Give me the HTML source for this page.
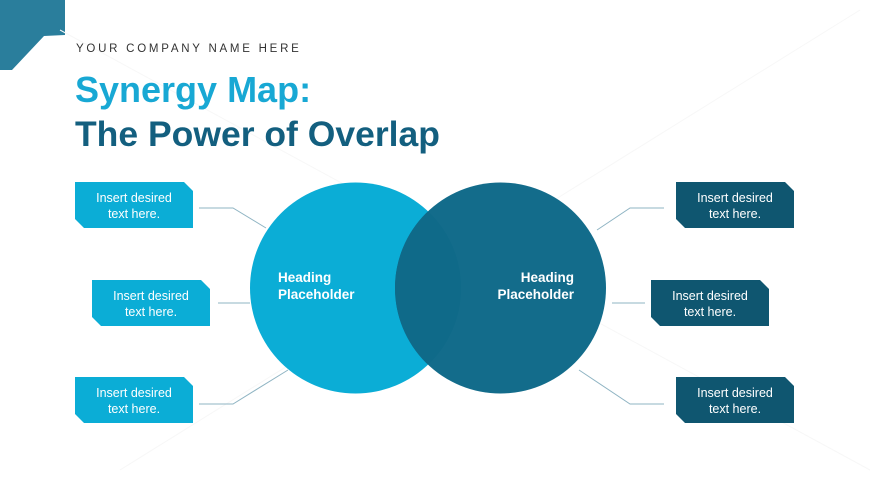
<!DOCTYPE html>
<html><head><meta charset="utf-8"><style>
html,body{margin:0;padding:0;background:#fff}
body{width:870px;height:489px;position:relative;overflow:hidden;font-family:"Liberation Sans",sans-serif}
.t{position:absolute;white-space:nowrap}
</style></head><body>
<svg width="870" height="489" style="position:absolute;left:0;top:0">
<defs><clipPath id="lc"><circle cx="355.5" cy="288" r="105.5"/></clipPath></defs>
<polygon points="0,0 65,0 65,35 44,36 12,70 0,70" fill="#2a7e9c"/>
<g stroke="#f7f7f7" stroke-width="1">
<line x1="60" y1="30" x2="870" y2="470"/>
<line x1="120" y1="470" x2="860" y2="10"/>
</g>
<g stroke="#8fb4c3" stroke-width="1" fill="none">
<polyline points="199,208 233,208 266,228"/>
<polyline points="218,303 250,303"/>
<polyline points="199,404 233,404 288,370"/>
<polyline points="664,208 630,208 597,230"/>
<polyline points="612,303 645,303"/>
<polyline points="664,404 630,404 579,370"/>
</g>
<circle cx="355.5" cy="288" r="105.5" fill="#0badd6"/>
<circle cx="500.5" cy="288" r="105.5" fill="#136c8b"/>
<circle cx="500.5" cy="288" r="105.5" fill="#0f6a89" clip-path="url(#lc)"/>
<g fill="#0badd6">
<polygon points="75,182 184,182 193,191 193,228 84,228 75,219"/>
<polygon points="92,280 201,280 210,289 210,326 101,326 92,317"/>
<polygon points="75,377 184,377 193,386 193,423 84,423 75,414"/>
</g>
<g fill="#0f5670">
<polygon points="676,182 785,182 794,191 794,228 685,228 676,219"/>
<polygon points="651,280 760,280 769,289 769,326 660,326 651,317"/>
<polygon points="676,377 785,377 794,386 794,423 685,423 676,414"/>
</g>
</svg>
<div class="t" style="left:76px;top:43px;font-size:11.5px;letter-spacing:2.75px;color:#333">YOUR COMPANY NAME HERE</div>
<div class="t" style="left:75px;top:69px;font-size:36px;font-weight:bold;color:#18a8d4;line-height:42px">Synergy Map:</div>
<div class="t" style="left:75px;top:113px;font-size:35.5px;font-weight:bold;color:#135f7f;line-height:42px">The Power of Overlap</div>
<div class="t" style="left:278px;top:269px;font-size:13.5px;font-weight:bold;color:#fff;line-height:17px">Heading<br>Placeholder</div>
<div class="t" style="left:474px;top:269px;font-size:13.5px;font-weight:bold;color:#fff;line-height:17px;text-align:right;width:100px">Heading<br>Placeholder</div>
<div class="t" style="left:75px;top:190px;width:118px;text-align:center;font-size:12.5px;line-height:16px;color:#fff">Insert desired<br>text here.</div>
<div class="t" style="left:92px;top:288px;width:118px;text-align:center;font-size:12.5px;line-height:16px;color:#fff">Insert desired<br>text here.</div>
<div class="t" style="left:75px;top:385px;width:118px;text-align:center;font-size:12.5px;line-height:16px;color:#fff">Insert desired<br>text here.</div>
<div class="t" style="left:676px;top:190px;width:118px;text-align:center;font-size:12.5px;line-height:16px;color:#fff">Insert desired<br>text here.</div>
<div class="t" style="left:651px;top:288px;width:118px;text-align:center;font-size:12.5px;line-height:16px;color:#fff">Insert desired<br>text here.</div>
<div class="t" style="left:676px;top:385px;width:118px;text-align:center;font-size:12.5px;line-height:16px;color:#fff">Insert desired<br>text here.</div>
</body></html>
